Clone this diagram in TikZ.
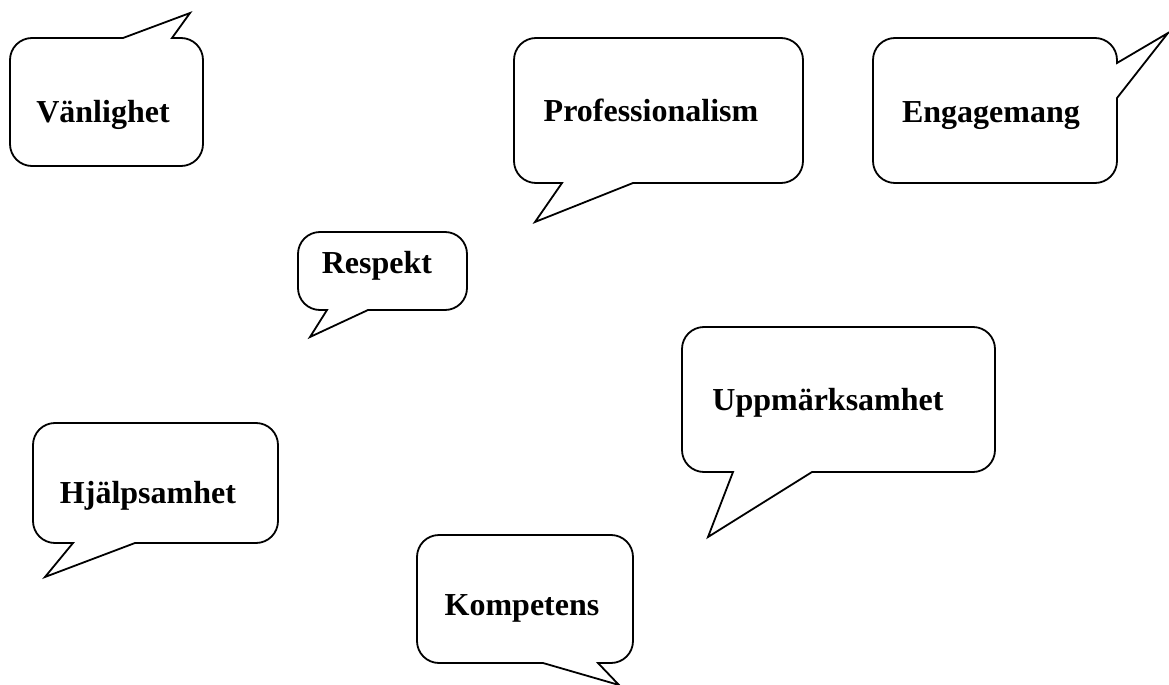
\documentclass[tikz,border=0pt]{standalone}
\usepackage{fontspec}
\setmainfont{Liberation Serif}
\usepackage{tikz}

\begin{document}
\begin{tikzpicture}[x=0.5pt, y=-0.5pt,
    bubble/.style={draw=black, line width=0.9pt, line join=miter},
    word/.style={inner sep=0pt, anchor=base, font=\fontsize{16}{19}\selectfont\bfseries}]
      \useasboundingbox (0,0) rectangle (1169,685);
      % Vanlighet, tail upwards
      \draw[bubble] (172,38) [rounded corners=11pt] -- (203,38) -- (203,166) -- (10,166) -- (10,38) [sharp corners] -- (123,38) -- (190,13) -- cycle;
      \node[word] (vanlighet) at (103,122) {Vänlighet};
      % Professionalism
      \draw[bubble] (562,183) [rounded corners=11pt] -- (514,183) -- (514,38) -- (803,38) -- (803,183) [sharp corners] -- (633,183) -- (535,222) -- cycle;
      \node[word] (profession) at (651,121) {Professionalism};
      % Engagemang, tail to the right
      \draw[bubble] (1117,63) [rounded corners=11pt] -- (1117,38) -- (873,38) -- (873,183) -- (1117,183) [sharp corners] -- (1117,98) -- (1168,33) -- cycle;
      \node[word] (engagemang) at (991,122) {Engagemang};
      % Respekt
      \draw[bubble] (327,310) [rounded corners=11pt] -- (298,310) -- (298,232) -- (467,232) -- (467,310) [sharp corners] -- (368,310) -- (310,337) -- cycle;
      \node[word] (respekt) at (377,273) {Respekt};
      % Uppmarksamhet
      \draw[bubble] (733,472) [rounded corners=11pt] -- (682,472) -- (682,327) -- (995,327) -- (995,472) [sharp corners] -- (812,472) -- (708,537) -- cycle;
      \node[word] (uppmark) at (828,410) {Uppmärksamhet};
      % Hjalpsamhet
      \draw[bubble] (73,543) [rounded corners=11pt] -- (33,543) -- (33,423) -- (278,423) -- (278,543) [sharp corners] -- (135,543) -- (45,577) -- cycle;
      \node[word] (hjalp) at (148,503) {Hjälpsamhet};
      % Kompetens, tail down to the right
      \draw[bubble] (598,663) [rounded corners=11pt] -- (633,663) -- (633,535) -- (417,535) -- (417,663) [sharp corners] -- (543,663) -- (619,685) -- cycle;
      \node[word] (kompetens) at (522,615) {Kompetens};
\end{tikzpicture}
\end{document}
